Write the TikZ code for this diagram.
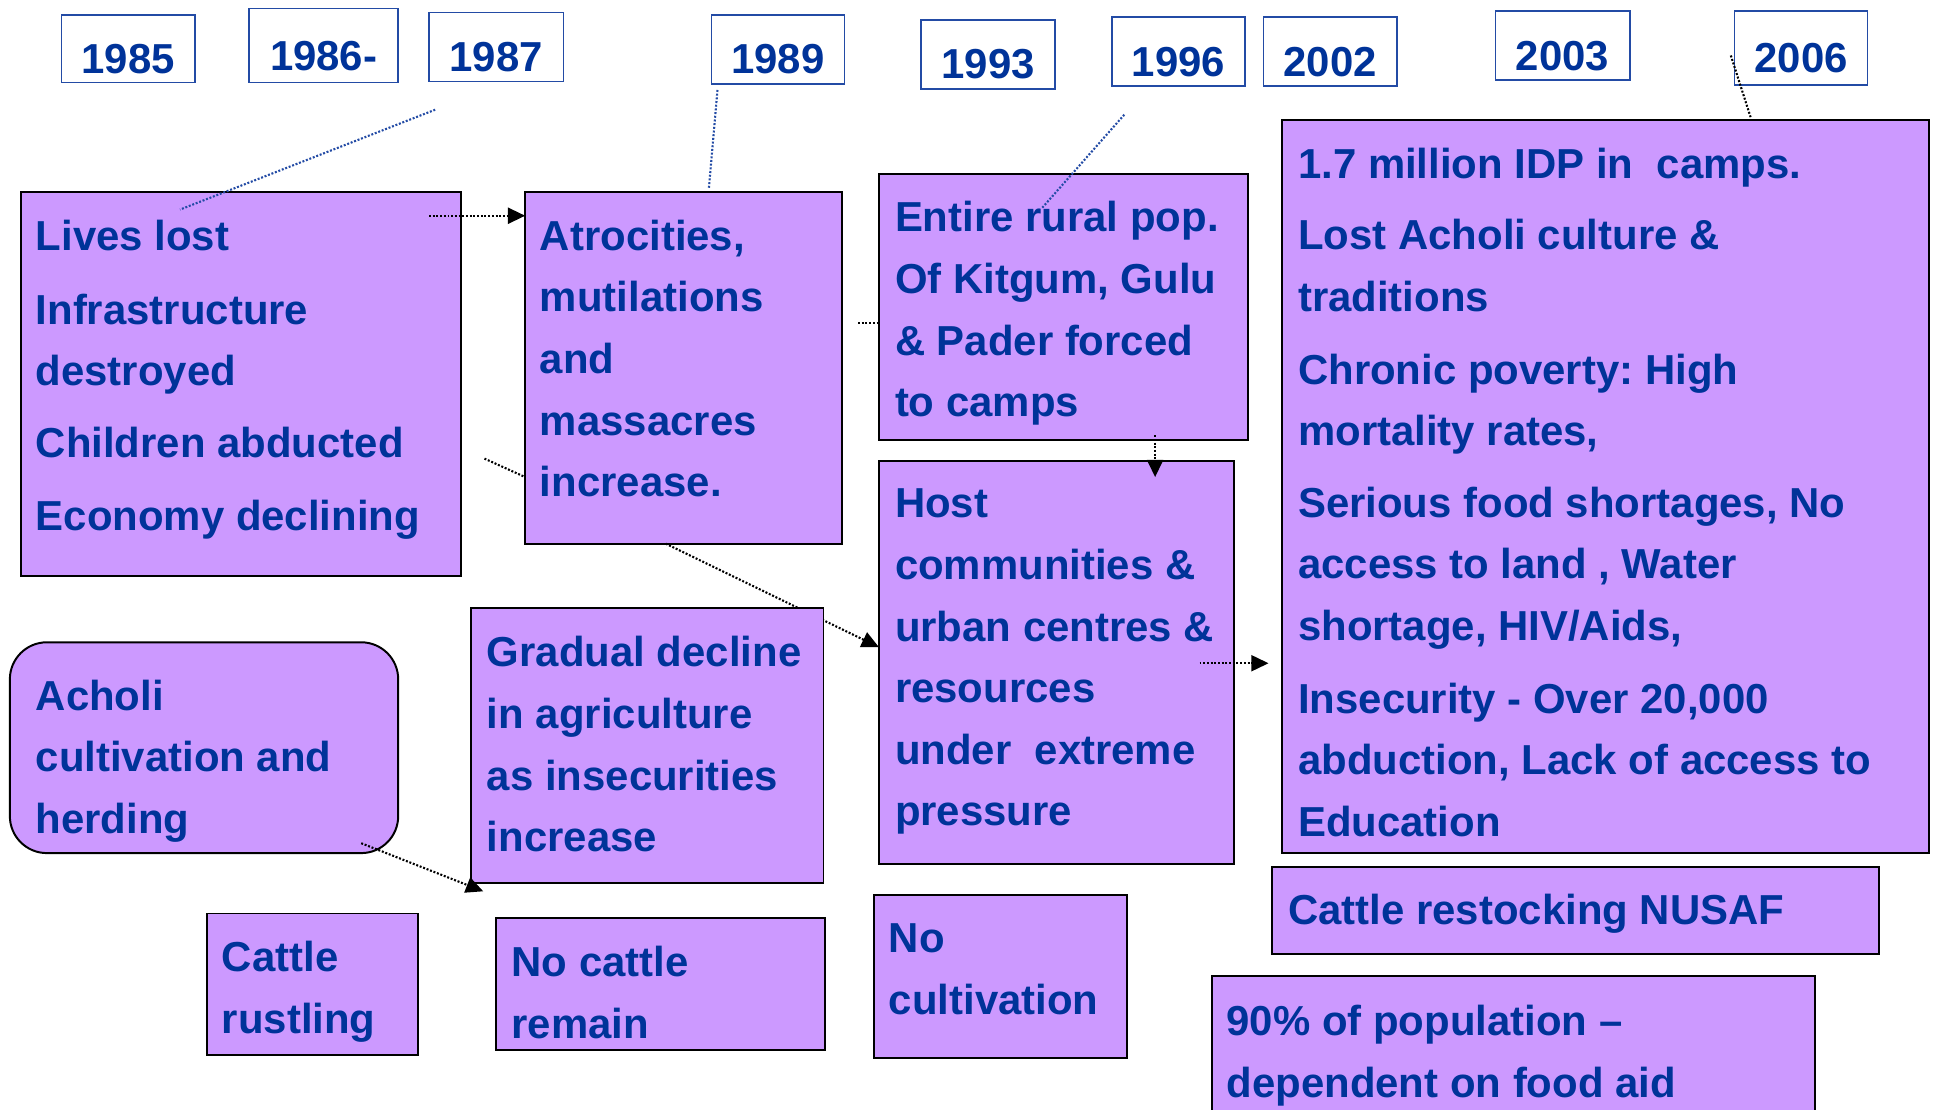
\documentclass[tikz,border=0pt]{standalone}
\usepackage{fontspec}
\setmainfont{Liberation Sans}
\usetikzlibrary{arrows.meta}
\definecolor{boxfill}{RGB}{204,153,255}
\definecolor{txtblue}{RGB}{0,51,153}
\definecolor{lineblue}{RGB}{35,75,165}
\newcommand\mytextfont{\fontsize{34}{50}\selectfont\bfseries\frenchspacing}
\newcommand\tb[1]{\parbox[t]{700pt}{\raggedright #1}}
\begin{document}
\begin{tikzpicture}[x=1pt,y=-1pt,
  box/.style={draw=black, line width=1.6pt, fill=boxfill, inner sep=0pt, outer sep=0pt, anchor=north west},
  yearbox/.style={draw=lineblue, line width=1.3pt, fill=white, inner sep=0pt, outer sep=0pt, anchor=north west, text=txtblue, font=\mytextfont, text height=40pt, text depth=0pt},
  txt/.style={inner sep=0pt, outer sep=0pt, anchor=base west, text=txtblue, font=\mytextfont},
  dotline/.style={line width=1.7pt, dash pattern=on 1.6pt off 1.4pt},
  arr/.style={dotline, -{Triangle[length=14pt,width=13pt]}},
]
\useasboundingbox (0,0) rectangle (1568,900);
\fill[white] (0,0) rectangle (1568,900);

% year boxes
\node[yearbox, minimum width=108pt, minimum height=55pt] (y1985) at (50,12) {1985};
\node[yearbox, minimum width=121pt, minimum height=60pt] (y1986) at (202,7) {1986-};
\node[yearbox, minimum width=109pt, minimum height=56pt] (y1987) at (348,10) {1987};
\node[yearbox, minimum width=108pt, minimum height=56pt] (y1989) at (577,12) {1989};
\node[yearbox, minimum width=109pt, minimum height=56pt] (y1993) at (747,16) {1993};
\node[yearbox, minimum width=108pt, minimum height=56pt] (y1996) at (902,14) {1996};
\node[yearbox, minimum width=108pt, minimum height=56pt] (y2002) at (1025,14) {2002};
\node[yearbox, minimum width=109pt, minimum height=56pt] (y2003) at (1213,9) {2003};
\node[yearbox, minimum width=108pt, minimum height=60pt] (y2006) at (1407,9) {2006};

% content boxes
\node[box, minimum width=357pt, minimum height=311pt] (lives) at (17,156) {};
\node[box, minimum width=257pt, minimum height=285pt] (atroc) at (426,156) {};
\node[box, minimum width=299pt, minimum height=216pt] (entire) at (713,141) {};
\node[box, minimum width=288pt, minimum height=327pt] (host) at (713,374) {};
\node[box, minimum width=525pt, minimum height=595pt] (big) at (1040,97) {};
\node[box, rounded corners=30pt, minimum width=315pt, minimum height=171pt] (acholi) at (8,521) {};
\node[box, minimum width=171pt, minimum height=115pt] (rustling) at (168,741) {};
\node[box, minimum width=267pt, minimum height=107pt] (nocattle) at (402,745) {};
\node[box, minimum width=205pt, minimum height=132pt] (nocult) at (709,726) {};
\node[box, minimum width=492pt, minimum height=71pt] (nusaf) at (1032,703) {};
\node[box, minimum width=489pt, minimum height=140pt] (ninety) at (983,792) {};

% connector partly hidden by the gradual box
\draw[arr] ([xshift=114pt]atroc.south west) -- ([yshift=-151pt]host.north west);
\node[box, minimum width=286pt, minimum height=223pt] (gradual) at (382,493) {};

% texts
\node[txt] (livesT) at (29,203) {\tb{Lives lost\\[10pt]Infrastructure\\destroyed\\[8pt]Children abducted\\[9pt]Economy declining}};
\node[txt] (atrocT) at (438,203) {\tb{Atrocities,\\mutilations\\and\\massacres\\increase.}};
\node[txt] (entireT) at (726,188) {\tb{Entire rural pop.\\Of Kitgum, Gulu\\\& Pader forced\\to camps}};
\node[txt] (hostT) at (726,420) {\tb{Host\\communities \&\\urban centres \&\\resources\\under\ \ extreme\\pressure}};
\node[txt] (bigT) at (1053,145) {\tb{1.7 million IDP in\ \ camps.\\[7.5pt]Lost Acholi culture \&\\traditions\\[9pt]Chronic poverty: High\\mortality rates,\\[8pt]Serious food shortages, No\\access to land , Water\\shortage, HIV/Aids,\\[9pt]Insecurity - Over 20,000\\abduction, Lack of access to\\Education}};
\node[txt] (acholiT) at (29,576) {\tb{Acholi\\cultivation and\\herding}};
\node[txt] (gradualT) at (395,541) {\tb{Gradual decline\\in agriculture\\as insecurities\\increase}};
\node[txt] (rustlingT) at (180,788) {\tb{Cattle\\rustling}};
\node[txt] (nocattleT) at (415,792) {\tb{No cattle\\remain}};
\node[txt] (nocultT) at (721,773) {\tb{No\\cultivation}};
\node[txt] (nusafT) at (1045,750) {\tb{Cattle restocking NUSAF}};
\node[txt] (ninetyT) at (995,840) {\tb{90\% of population --\\dependent on food aid}};

% free connector ends
\coordinate (c1a) at (353,89);
\coordinate (c1b) at (146,170);
\coordinate (c2a) at (348,175);
\coordinate (c3a) at (582,73);
\coordinate (c3b) at (575,153);
\coordinate (c4a) at (912,93);
\coordinate (c4b) at (845,169);
\coordinate (c5a) at (1404,45);
\coordinate (c5b) at (1420,95);
\coordinate (c6a) at (696,262);
\coordinate (c7a) at (393,372);
\coordinate (c9a) at (937,353);
\coordinate (c9b) at (937,387);
\coordinate (c10a) at (973,538);
\coordinate (c10b) at (1029,538);
\coordinate (c11a) at (293,684);
\coordinate (c11b) at (392,723);

% connectors
\draw[dotline, lineblue] (c1a) -- (c1b);
\draw[arr] (c2a) -- (c2a -| atroc.west);
\draw[dotline, lineblue] (c3a) -- (c3b);
\draw[dotline, lineblue] (c4a) -- (c4b);
\draw[dotline] (c5a) -- (c5b);
\draw[dotline] (c6a) -- (c6a -| entire.west);
\draw[dotline] (c7a) -- ([yshift=-231pt]atroc.north west);
\draw[arr] (c9a) -- (c9b);
\draw[arr] (c10a) -- (c10b);
\draw[arr] (c11a) -- (c11b);
\end{tikzpicture}
\end{document}
